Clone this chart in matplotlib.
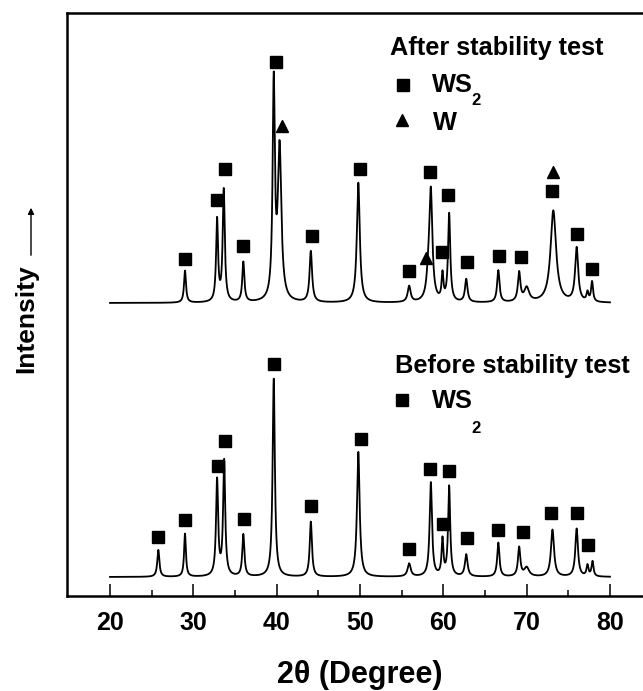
import numpy as np
import matplotlib
matplotlib.use("Agg")
import matplotlib.pyplot as plt
from matplotlib.ticker import FixedLocator
from matplotlib.patches import FancyArrowPatch

plt.rcParams['font.family'] = ['Liberation Sans', 'DejaVu Sans']
plt.rcParams['font.weight'] = 'bold'

# peak lists: 2theta, height above background, half width
before_pos = [25.8, 29.0, 32.85, 33.7, 36.0, 39.65, 44.1, 49.8, 55.9, 58.5, 59.9,
              60.7, 62.75, 66.6, 69.1, 70.0, 73.1, 76.0, 77.3, 77.9]
before_h = [27, 43, 96, 115, 42, 198, 55, 125, 13, 94, 36, 90, 22, 34, 29, 9, 47, 48, 11, 15]
before_w = [0.15, 0.13, 0.15, 0.15, 0.15, 0.16, 0.16, 0.19, 0.22, 0.17, 0.13,
            0.15, 0.19, 0.16, 0.17, 0.35, 0.22, 0.19, 0.14, 0.14]

after_pos = [29.0, 32.85, 33.65, 36.0, 39.65, 40.35, 44.1, 49.8, 55.9, 58.2, 58.5, 59.9,
             60.7, 62.75, 66.6, 69.1, 70.0, 73.2, 76.0, 77.3, 77.85]
after_h = [32, 82, 112, 40, 214, 152, 51, 120, 16, 18, 108, 26, 88, 23, 32, 29, 14, 92, 54, 9, 20]
after_w = [0.14, 0.14, 0.15, 0.15, 0.16, 0.25, 0.18, 0.21, 0.21, 0.25, 0.22, 0.13,
           0.16, 0.18, 0.17, 0.18, 0.35, 0.40, 0.22, 0.14, 0.14]

before_bg = 19
after_bg = 293

# phase markers (2theta, height)
before_sq_x = [25.8, 29.05, 32.92, 33.8, 36.1, 39.72, 44.12, 50.12, 55.9, 58.45, 60.0,
               60.7, 62.8, 66.6, 69.55, 72.95, 76.07, 77.4]
before_sq_y = [59, 76, 130, 155, 77, 232, 90, 157, 47, 127, 72, 125, 58, 66, 64, 83, 83, 51]

after_sq_x = [29.05, 32.8, 33.8, 35.92, 39.92, 44.28, 50.0, 55.9, 58.45, 59.9, 60.6,
              62.9, 66.7, 69.3, 73.1, 76.0, 77.85]
after_sq_y = [337, 396, 427, 350, 534, 360, 427, 325, 424, 344, 401, 334, 340, 339, 405, 362, 327]
after_tri_x = [40.6, 57.9, 73.2]
after_tri_y = [470, 338, 424]

tt = np.linspace(20, 80, 4001)


def pattern(pos, h, w, bg):
    y = np.full_like(tt, bg, dtype=float)
    for p, a, g in zip(pos, h, w):
        y += a / (1 + ((tt - p) / g) ** 2)
    return y


fig = plt.figure(figsize=(6.43, 6.91), dpi=100)
W, H = 643, 691
ax = fig.add_axes([67 / W, (H - 596) / H, (110 + 70 * 8.333 - 67) / W, (596 - 13) / H])
ax.set_xlim(14.84, 90)
ax.set_ylim(0, 583)

ax.plot(tt, pattern(before_pos, before_h, before_w, before_bg), color="black", lw=1.3)
ax.plot(tt, pattern(after_pos, after_h, after_w, after_bg), color="black", lw=1.3)

ax.plot(before_sq_x, before_sq_y, "s", color="black", ms=8.5, ls="none")
ax.plot(after_sq_x, after_sq_y, "s", color="black", ms=8.5, ls="none")
ax.plot(after_tri_x, after_tri_y, "^", color="black", ms=9, ls="none")

# legends drawn as text
ax.text(53.6, 541, "After stability test", fontsize=18.3, fontweight="bold", va="baseline")
ax.plot([55.16], [511], "s", color="black", ms=8.5)
ax.text(58.64, 504, "WS", fontsize=18.3, fontweight="bold", va="baseline")
ax.text(63.4, 491, "2", fontsize=12, fontweight="bold", va="baseline")
ax.plot([55.04], [476], "^", color="black", ms=9)
ax.text(58.76, 466, "W", fontsize=18.3, fontweight="bold", va="baseline")

ax.text(54.2, 223, "Before stability test", fontsize=18.3, fontweight="bold", va="baseline")
ax.plot([55.0], [196], "s", color="black", ms=8.5)
ax.text(58.6, 188, "WS", fontsize=18.3, fontweight="bold", va="baseline")
ax.text(63.4, 163, "2", fontsize=12, fontweight="bold", va="baseline")

for s in ["left", "bottom", "top"]:
    ax.spines[s].set_linewidth(1.8)
ax.spines["right"].set_visible(False)
ax.xaxis.set_major_locator(FixedLocator([20, 30, 40, 50, 60, 70, 80]))
ax.xaxis.set_minor_locator(FixedLocator([25, 35, 45, 55, 65, 75]))
ax.tick_params(axis="x", which="major", direction="in", length=8.6, width=1.1,
               labelsize=18, pad=11)
ax.tick_params(axis="x", which="minor", direction="in", length=4.3, width=1.1)
ax.set_yticks([])
for lab in ax.get_xticklabels():
    lab.set_fontweight("bold")

fig.text(360 / W, 1 - 675 / H, "2θ (Degree)", fontsize=22, fontweight="bold",
         ha="center", va="center")
fig.text(26 / W, 1 - 319 / H, "Intensity", fontsize=19, fontweight="bold",
         rotation=90, ha="center", va="center")
fig.add_artist(FancyArrowPatch(
    (31 / W, 1 - 258 / H), (31 / W, 1 - 205 / H), transform=fig.transFigure,
    arrowstyle="-|>", mutation_scale=9, lw=1.0, color="black"))

fig.savefig("out.png", dpi=100)
